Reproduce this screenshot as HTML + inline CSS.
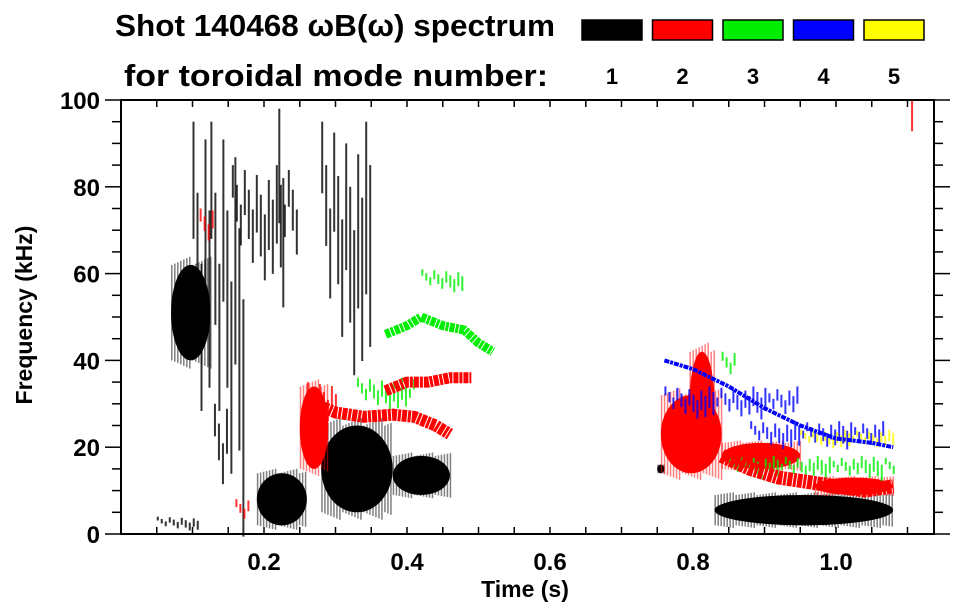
<!DOCTYPE html>
<html><head><meta charset="utf-8"><style>
body{margin:0;background:#fff;width:963px;height:615px;overflow:hidden}
svg{display:block;font-family:"Liberation Sans",sans-serif;font-weight:bold}
</style></head><body>
<svg id="chart" width="963" height="615">
<text x="115" y="36" font-size="31" textLength="440" lengthAdjust="spacingAndGlyphs">Shot 140468 ωB(ω) spectrum</text>
<text x="124" y="86" font-size="31" textLength="424" lengthAdjust="spacingAndGlyphs">for toroidal mode number:</text>
<g id="legend"></g>
<g id="marks"></g>
<g id="axes"></g>
<text x="525" y="597" font-size="23" text-anchor="middle">Time (s)</text>
<text transform="translate(32,315) rotate(-90)" font-size="23" text-anchor="middle">Frequency (kHz)</text>
</svg>
<script>
const modeColors=["#000000","#ff0000","#00ee00","#0000ff","#ffff00"];
const modeLabels=["1","2","3","4","5"];
const xTicks=[0.2,0.4,0.6,0.8,1.0];
const yTicks=[0,20,40,60,80,100];
// blobs: mode index, kind (0 solid, 1 streaky), time start/end, freq low/high
const blobMode=[0,0,0,0,0,0,0,0,0,0,0,0,1,1,1,1,1,1,1,1,2,2,2,2,3,3,1,0,4];
const blobKind=[0,1,1,0,0,0,0,1,1,1,1,0,0,1,0,0,0,0,1,1,1,1,1,1,1,1,1,1,1];
const blobT0=[0.07,0.10,0.125,0.19,0.28,0.38,0.83,0.28,0.155,0.22,0.13,0.75,0.25,0.26,0.755,0.795,0.84,0.97,0.11,0.16,0.33,0.85,0.42,0.84,0.88,0.76,1.105,0.05,0.95];
const blobT1=[0.125,0.125,0.17,0.26,0.38,0.46,1.08,0.35,0.25,0.23,0.15,0.76,0.29,0.30,0.84,0.83,0.95,1.08,0.13,0.18,0.41,1.08,0.48,0.86,1.07,0.95,1.11,0.11,1.08];
const blobF0=[40,5,5,2,5,9,2,40,60,10,5,14,15,25,14,18,15,9,65,2,29,13,56,35,20,27,76,1,20];
const blobF1=[62,95,95,14,25,18,9,95,85,98,30,16,34,35,32,42,21,13,75,8,36,18,61,42,26,34,100,4,24];
// mode-2 and mode-3 band centre lines
const redT=[0.27,0.30,0.34,0.38,0.41,0.44,0.46];
const redF=[30,28,27,27.5,27,25,23];
const red2T=[0.37,0.40,0.43,0.46,0.49];
const red2F=[33,35,35,36,36];
const grnT=[0.37,0.40,0.42,0.45,0.48,0.50,0.52];
const grnF=[46,48,50,48,47,44,42];
const bluT=[0.76,0.80,0.85,0.90,0.95,1.00,1.05,1.08];
const bluF=[40,38,34,29,25,22,21,20];
const redBT=[0.84,0.88,0.92,0.96,1.00,1.04,1.08];
const redBF=[18,15,13,12,11,10,11];
const ns="http://www.w3.org/2000/svg";
const X0=121,X1=934,Y0=534,Y1=100;
const xs=t=>X0+t*715;
const ys=f=>Y0-f*4.34;
function mk(tag,attrs,parent){const e=document.createElementNS(ns,tag);for(const k in attrs)e.setAttribute(k,attrs[k]);parent.appendChild(e);return e;}
const legend=document.getElementById('legend');
modeColors.forEach((c,i)=>{
  const r=mk('rect',{x:582+i*70.5,y:20,width:60,height:20,fill:c,stroke:'#000','stroke-width':1.5},legend);
  
  
  const t=mk('text',{x:612+i*70.5,y:84,'font-size':22,'text-anchor':'middle'},legend);
  t.textContent=modeLabels[i];
  
  
});
const marks=document.getElementById('marks');
for(let i=0;i<blobMode.length;i++){
  const x0=xs(blobT0[i]),x1=xs(blobT1[i]),y0=ys(blobF1[i]),y1=ys(blobF0[i]);
  let e;
  const c=modeColors[blobMode[i]];
  if(blobKind[i]==1){
    e=mk('g',{},marks);
    let k=0;
    for(let x=x0;x<=x1;x+=4,k++){
      const a=(k*37)%11/11, b=(k*53)%13/13;
      mk('rect',{x:x,y:y0+(y1-y0)*a*0.5,width:2,height:(y1-y0)*(0.3+0.5*b),fill:c,opacity:0.8},e);
    }
  } else {
    e=mk('g',{},marks);
    mk('ellipse',{cx:(x0+x1)/2,cy:(y0+y1)/2,rx:(x1-x0)/2,ry:(y1-y0)/2,fill:c},e);
    let k=0;
    for(let x=x0;x<=x1;x+=3,k++){
      const a=(k*29)%7/7;
      mk('rect',{x:x,y:y0-(y1-y0)*0.1*a,width:1.5,height:(y1-y0)*(1+0.2*a),fill:c,opacity:0.5},e);
    }
  }
  
  
}
function band(T,F,mode,w,name){
  const p=mk('polyline',{points:T.map((t,i)=>xs(t)+','+ys(F[i])).join(' '),fill:'none',stroke:modeColors[mode],'stroke-width':w,'stroke-linejoin':'round','stroke-dasharray':'5 1 3 1'},marks);
  
  
}
band(redT,redF,1,12,'mode-2-band-low');
band(red2T,red2F,1,11,'mode-2-band-high');
band(grnT,grnF,2,9,'mode-3-band');
band(bluT,bluF,3,4,'mode-4-band');
band(redBT,redBF,1,14,'mode-2-band-late');
const axes=document.getElementById('axes');
const fr=mk('rect',{x:X0,y:Y1,width:X1-X0,height:Y0-Y1,fill:'none',stroke:'#000','stroke-width':2},axes);


for(let t=0.05;t<1.13;t+=0.05){
  mk('line',{x1:xs(t),x2:xs(t),y1:Y0,y2:Y0-7,stroke:'#000','stroke-width':1.5},axes);
  mk('line',{x1:xs(t),x2:xs(t),y1:Y1,y2:Y1+7,stroke:'#000','stroke-width':1.5},axes);
}
for(let f=0;f<=100;f+=5){
  const big=f%20==0;
  mk('line',{x1:X0,x2:X0-(big?16:9),y1:ys(f),y2:ys(f),stroke:'#000','stroke-width':1.5},axes);
  mk('line',{x1:X1,x2:X1+(big?16:9),y1:ys(f),y2:ys(f),stroke:'#000','stroke-width':1.5},axes);
}
xTicks.forEach(t=>{
  const e=mk('text',{x:xs(t),y:570,'font-size':24,'text-anchor':'middle'},axes);
  e.textContent=t.toFixed(1);
  
  
});
yTicks.forEach(f=>{
  const e=mk('text',{x:100,y:ys(f)+9,'font-size':24,'text-anchor':'end'},axes);
  e.textContent=f;
  
  
});
</script>
</body></html>
